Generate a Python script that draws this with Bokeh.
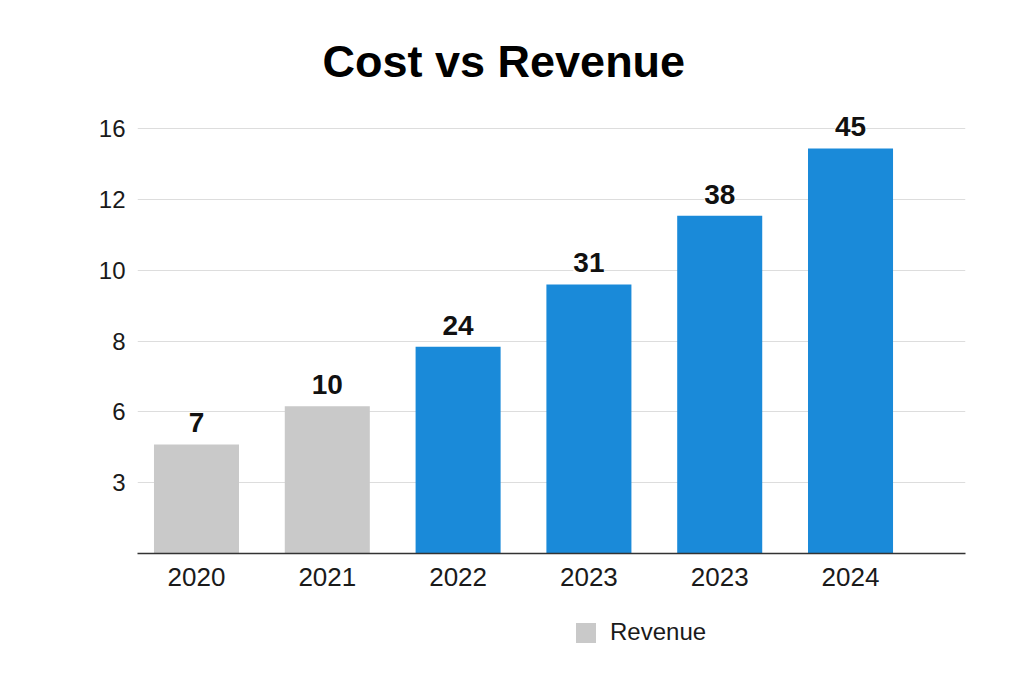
from bokeh.plotting import figure
from bokeh.layouts import column
from bokeh.models import (ColumnDataSource, Legend, LegendItem, LabelSet,
                          FixedTicker, Range1d)
from bokeh.core.properties import value
from bokeh.embed import file_html
from bokeh.resources import INLINE

# ---- data ----
years = ["2020", "2021", "2022", "2023", "2023", "2024"]
bar_heights = [1.54, 2.08, 2.92, 3.80, 4.77, 5.72]   # in axis tick steps
value_labels = ["7", "10", "24", "31", "38", "45"]
y_tick_labels = ["3", "6", "8", "10", "12", "16"]
legend_label = "Revenue"

GREY = "#c9c9c9"
BLUE = "#1a8ad9"
BG = "#ffffff"
FONT = "Liberation Sans"

bar_colors = [GREY, GREY, BLUE, BLUE, BLUE, BLUE]
xs = list(range(len(years)))
yticks = list(range(1, len(y_tick_labels) + 1))

src = ColumnDataSource(dict(x=xs, top=bar_heights, label=value_labels,
                            color=bar_colors))

p = figure(width=1000, height=600, output_backend="svg", toolbar_location=None,
           x_range=Range1d(-0.451, 5.879), y_range=Range1d(0, 6.51),
           min_border_left=137, min_border_right=35,
           min_border_bottom=47, min_border_top=92)

p.background_fill_color = BG
p.border_fill_color = BG
p.outline_line_color = None

r = p.vbar(x="x", top="top", width=0.65, fill_color="color", line_color=None,
           source=src)

labels = LabelSet(x="x", y="top", text="label", source=src, y_offset=12,
                  text_align="center", text_baseline="bottom",
                  text_font=value(FONT), text_font_size="28px",
                  text_font_style="bold",
                  text_color="#111111", background_fill_color=BG)
p.add_layout(labels)

# axes
p.xaxis.ticker = FixedTicker(ticks=xs)
p.xaxis.major_label_overrides = {i: y for i, y in enumerate(years)}
p.xaxis.axis_line_color = "#333333"
p.xaxis.axis_line_width = 1.5
p.xaxis.major_tick_line_color = None
p.xaxis.minor_tick_line_color = None
p.xaxis.major_label_standoff = 8
p.xaxis.major_label_text_font = FONT
p.xaxis.major_label_text_font_size = "26px"
p.xaxis.major_label_text_color = "#1a1a1a"

p.yaxis.ticker = FixedTicker(ticks=yticks)
p.yaxis.major_label_overrides = {t: l for t, l in zip(yticks, y_tick_labels)}
p.yaxis.axis_line_color = None
p.yaxis.major_tick_line_color = None
p.yaxis.minor_tick_line_color = None
p.yaxis.major_label_standoff = 6
p.yaxis.major_label_text_font = FONT
p.yaxis.major_label_text_font_size = "24px"
p.yaxis.major_label_text_color = "#1a1a1a"

p.xgrid.grid_line_color = None
p.ygrid.ticker = FixedTicker(ticks=yticks)
p.ygrid.grid_line_color = "#dddddd"
p.ygrid.grid_line_width = 1

# title
p.title.text = "Cost vs Revenue"
p.title.text_font = FONT
p.title.text_font_size = "45px"
p.title.text_font_style = "bold"
p.title.text_color = "#000000"
p.title.align = "left"
p.title.offset = 185
p.title.standoff = 12

# legend strip below the chart (same bars, out of view, only for the key)
p2 = figure(width=1000, height=60, output_backend="svg", toolbar_location=None,
            x_range=Range1d(100, 101), y_range=Range1d(100, 101),
            x_axis_location=None, y_axis_location=None,
            min_border=0)
p2.background_fill_color = BG
p2.border_fill_color = BG
p2.outline_line_color = None
p2.grid.visible = False
r2 = p2.vbar(x="x", top="top", width=0.65, fill_color="color", line_color=None,
             source=src)

legend = Legend(items=[LegendItem(label=legend_label, renderers=[r2], index=0)],
                location=(436, 14), orientation="horizontal",
                glyph_width=25, glyph_height=25, label_standoff=12,
                label_text_font=FONT, label_text_font_size="24px",
                label_text_color="#1a1a1a", padding=0, margin=0,
                border_line_color=None, background_fill_alpha=0)
p2.add_layout(legend)

layout = column(p, p2, spacing=0)
open("out.html", "w").write(file_html(layout, INLINE))
